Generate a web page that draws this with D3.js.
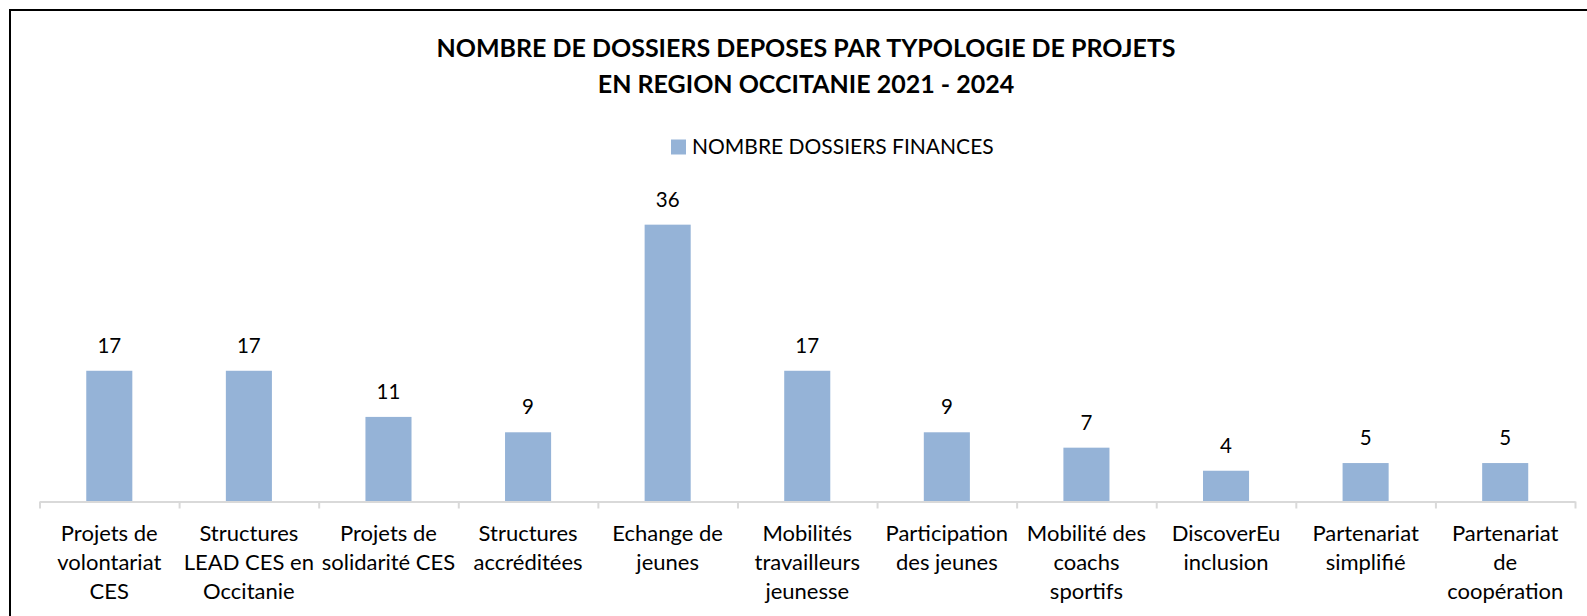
<!DOCTYPE html>
<html>
<head>
<meta charset="utf-8">
<script src="https://cdn.jsdelivr.net/npm/d3@7"></script>
<style>
  html, body { margin: 0; padding: 0; background: #fff; }
  svg { display: block; }
  text { font-family: Lato, "Open Sans", sans-serif; fill: #000; }
</style>
</head>
<body>
<svg id="chart" width="1587" height="616"></svg>
<script>
// ---- data ----
const categories = [
  "Projets de volontariat CES",
  "Structures LEAD CES en Occitanie",
  "Projets de solidarité CES",
  "Structures accréditées",
  "Echange de jeunes",
  "Mobilités travailleurs jeunesse",
  "Participation des jeunes",
  "Mobilité des coachs sportifs",
  "DiscoverEu inclusion",
  "Partenariat simplifié",
  "Partenariat de coopération"
];
const categoryLines = [
  ["Projets de", "volontariat", "CES"],
  ["Structures", "LEAD CES en", "Occitanie"],
  ["Projets de", "solidarité CES"],
  ["Structures", "accréditées"],
  ["Echange de", "jeunes"],
  ["Mobilités", "travailleurs", "jeunesse"],
  ["Participation", "des jeunes"],
  ["Mobilité des", "coachs", "sportifs"],
  ["DiscoverEu", "inclusion"],
  ["Partenariat", "simplifié"],
  ["Partenariat", "de", "coopération"]
];
const values = [17, 17, 11, 9, 36, 17, 9, 7, 4, 5, 5];
const seriesName = "NOMBRE DOSSIERS FINANCES";
const titleLines = [
  "NOMBRE DE DOSSIERS DEPOSES PAR TYPOLOGIE DE PROJETS",
  "EN REGION OCCITANIE 2021 - 2024"
];
const yDomain = [0, 40];

// ---- layout ----
const svg = d3.select("#chart");
const barColor = "#95B3D7";
const axisColor = "#D9D9D9";

// outer chart border (extends past the right/bottom edge as in the reference)
svg.append("rect")
  .attr("x", 10).attr("y", 10)
  .attr("width", 1610).attr("height", 640)
  .attr("fill", "none").attr("stroke", "#000").attr("stroke-width", 2);

const plotLeft = 39.5, plotRight = 1575, baseY = 501.5;
const x = d3.scaleBand().domain(categories).range([plotLeft, plotRight])
  .paddingInner(0.67).paddingOuter(0.335);
const y = d3.scaleLinear().domain(yDomain).range([baseY, baseY - 40 * 7.69]);

// title
const titleCx = 806;
svg.append("g").selectAll("text").data(titleLines).join("text")
  .attr("x", titleCx)
  .attr("y", (d, i) => 56.7 + i * 36)
  .attr("text-anchor", "middle")
  .attr("font-weight", "bold")
  .attr("font-size", 25)
  .text(d => d);

// legend
const lg = svg.append("g");
lg.append("rect").attr("x", 671).attr("y", 139.5).attr("width", 15).attr("height", 15).attr("fill", barColor);
lg.append("text").attr("x", 692).attr("y", 154).attr("font-size", 21).text(seriesName);

// bars
svg.append("g").selectAll("rect").data(values).join("rect")
  .attr("x", (d, i) => x(categories[i]))
  .attr("width", x.bandwidth())
  .attr("y", d => y(d))
  .attr("height", d => baseY - y(d))
  .attr("fill", barColor);

// value labels
svg.append("g").selectAll("text").data(values).join("text")
  .attr("x", (d, i) => x(categories[i]) + x.bandwidth() / 2)
  .attr("y", d => y(d) - 18)
  .attr("text-anchor", "middle")
  .attr("font-size", 20.5)
  .text(d => d);

// x axis: line with tick marks at category boundaries
const xb = d3.scaleLinear().domain([0, categories.length]).range([plotLeft, plotRight]);
const axis = svg.append("g").attr("transform", `translate(0,${baseY})`)
  .call(d3.axisBottom(xb).tickValues(d3.range(categories.length + 1)).tickSize(7).tickSizeOuter(0).tickFormat(""));
axis.select(".domain").attr("stroke", axisColor).attr("stroke-width", 2);
axis.selectAll(".tick line").attr("stroke", axisColor).attr("stroke-width", 2);

// category labels
const cl = svg.append("g");
categoryLines.forEach((lines, i) => {
  const t = cl.append("text")
    .attr("x", x(categories[i]) + x.bandwidth() / 2)
    .attr("y", 540.5)
    .attr("text-anchor", "middle")
    .attr("font-size", 22);
  lines.forEach((ln, j) => {
    t.append("tspan").attr("x", x(categories[i]) + x.bandwidth() / 2)
      .attr("dy", j === 0 ? 0 : 29.2).text(ln);
  });
});
</script>
</body>
</html>
